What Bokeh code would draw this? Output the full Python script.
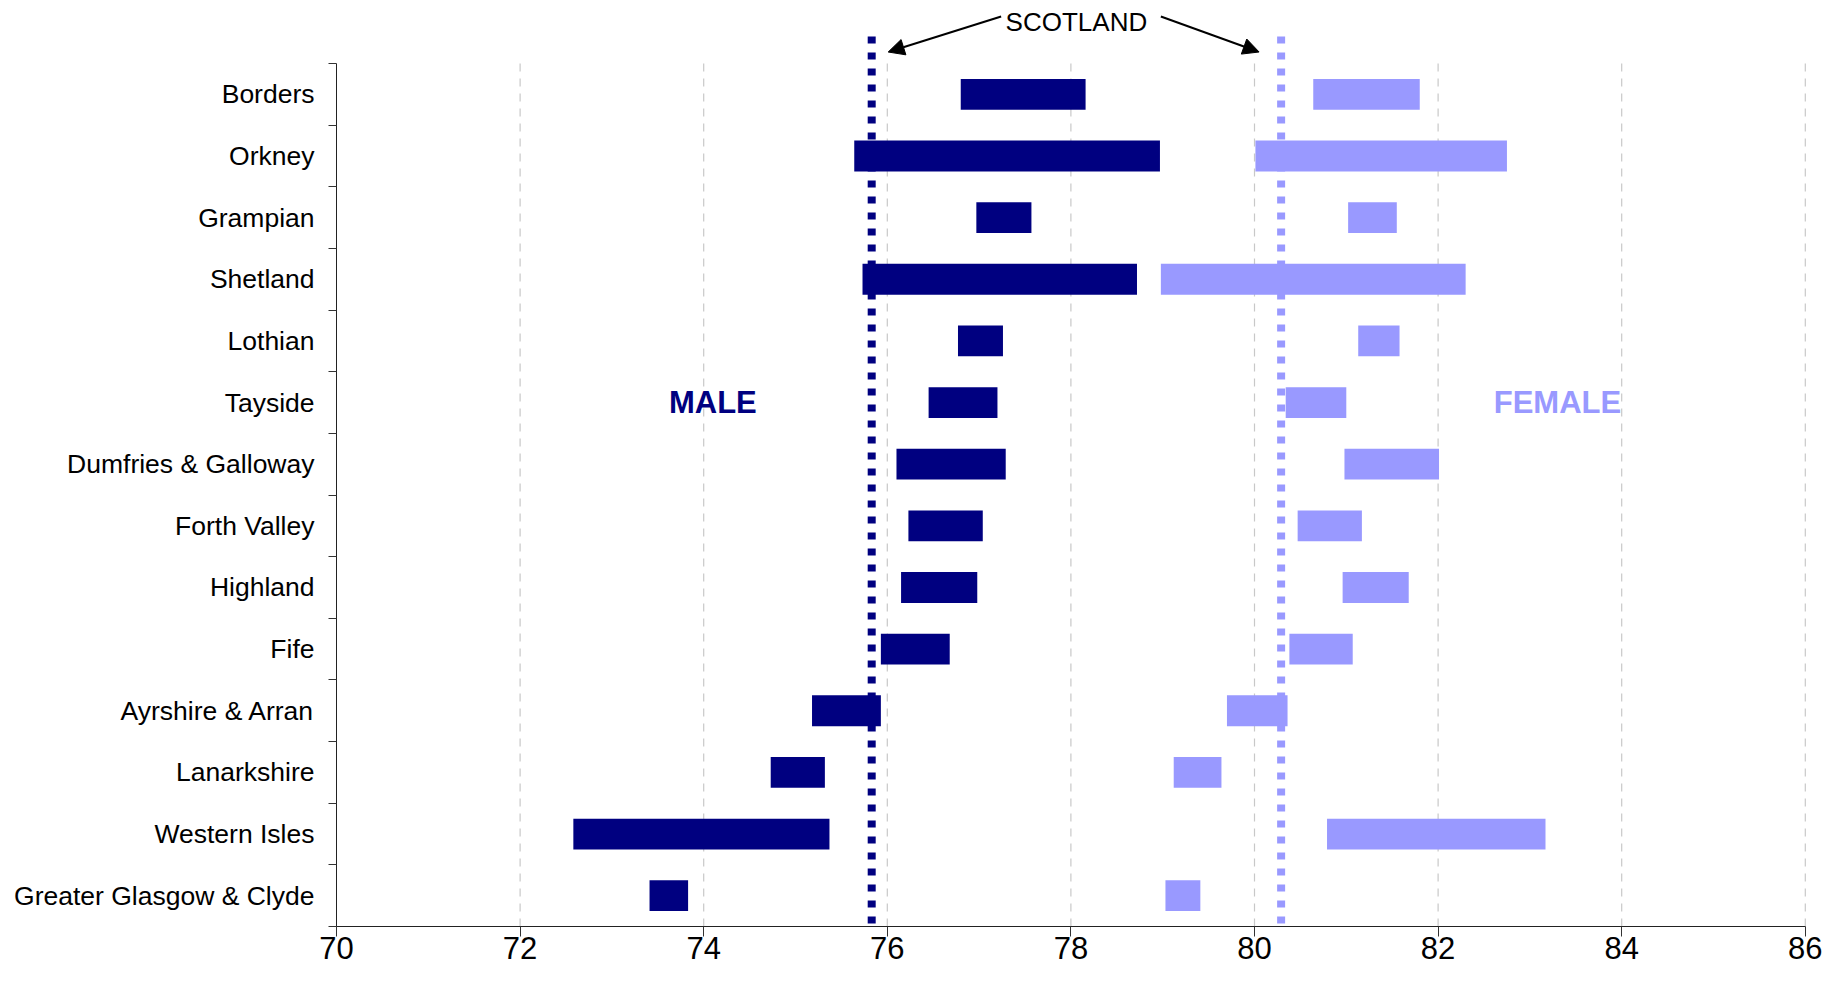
from bokeh.plotting import figure
from bokeh.models import (Range1d, FixedTicker, ColumnDataSource, Label, Arrow, NormalHead)
from bokeh.embed import file_html
from bokeh.resources import INLINE

# ---------------- data ----------------
boards = ["Borders", "Orkney", "Grampian", "Shetland", "Lothian", "Tayside",
          "Dumfries & Galloway", "Forth Valley", "Highland", "Fife",
          "Ayrshire & Arran", "Lanarkshire", "Western Isles",
          "Greater Glasgow & Clyde"]
male_low = [76.80, 75.64, 76.97, 75.73, 76.77, 76.45, 76.10, 76.23, 76.15, 75.93,
            75.18, 74.73, 72.58, 73.41]
male_high = [78.16, 78.97, 77.57, 78.72, 77.26, 77.20, 77.29, 77.04, 76.98, 76.68,
             75.93, 75.32, 75.37, 73.83]
female_low = [80.64, 80.01, 81.02, 78.98, 81.13, 80.34, 80.98, 80.47, 80.96, 80.38,
              79.70, 79.12, 80.79, 79.03]
female_high = [81.80, 82.75, 81.55, 82.30, 81.58, 81.00, 82.01, 81.17, 81.68, 81.07,
               80.36, 79.64, 83.17, 79.41]
scotland_male = 75.83
scotland_female = 80.29
x_ticks = [70, 72, 74, 76, 78, 80, 82, 84, 86]

MALE_C = "#000080"
FEMALE_C = "#9999FF"
FONT = "Liberation Sans"

n = len(boards)
ypos = [n - 0.5 - i for i in range(n)]

# layout (pixels)
W, H = 1824, 974
left_b, right_b, top_b, bottom_b = 336, 16, 8, 48
band_px = 863 / n
frame_w = W - left_b - right_b
px_per_unit = 91.8
x_end = x_ticks[0] + frame_w / px_per_unit
y_top = n + 55 / band_px
dot_top = n + 27 / band_px

p = figure(width=W, height=H, output_backend="svg", toolbar_location=None,
           x_range=Range1d(x_ticks[0], x_end), y_range=Range1d(0, y_top),
           min_border_left=left_b, min_border_right=right_b,
           min_border_top=top_b, min_border_bottom=bottom_b)
p.outline_line_color = None
p.xgrid.visible = False
p.ygrid.visible = False

# dashed grid lines
gx = x_ticks[1:]
p.segment(x0=gx, y0=[0] * len(gx), x1=gx, y1=[n] * len(gx),
          line_color="#c8c8c8", line_width=1.2, line_dash="8 7")

src = ColumnDataSource(dict(y=ypos, ml=male_low, mh=male_high, fl=female_low, fh=female_high))
p.hbar(y="y", left="ml", right="mh", height=0.5, source=src,
       fill_color=MALE_C, line_color=None)
p.hbar(y="y", left="fl", right="fh", height=0.5, source=src,
       fill_color=FEMALE_C, line_color=None)

# Scotland reference lines (drawn top-down so the dots start at the top)
p.segment(x0=[scotland_male], y0=[dot_top], x1=[scotland_male], y1=[0],
          line_color=MALE_C, line_width=8, line_dash="7 9", line_cap="butt")
p.segment(x0=[scotland_female], y0=[dot_top], x1=[scotland_female], y1=[0],
          line_color=FEMALE_C, line_width=8, line_dash="7 9", line_cap="butt")

# annotations
mid = (scotland_male + scotland_female) / 2
ty = n + 42 / band_px
p.add_layout(Label(x=mid, y=ty, text="SCOTLAND", text_align="center",
                   text_baseline="middle", text_font=FONT, text_font_size="26px",
                   text_color="black"))
ay0 = n + 47 / band_px
ay1 = n + 11.5 / band_px
p.add_layout(Arrow(end=NormalHead(size=16, fill_color="black", line_color="black"),
                   x_start=mid - 0.82, y_start=ay0, x_end=scotland_male + 0.18, y_end=ay1,
                   line_width=2, line_color="black"))
p.add_layout(Arrow(end=NormalHead(size=16, fill_color="black", line_color="black"),
                   x_start=mid + 0.92, y_start=ay0, x_end=scotland_female - 0.24, y_end=ay1,
                   line_width=2, line_color="black"))

label_y = ypos[boards.index("Tayside")]
p.add_layout(Label(x=74.1, y=label_y, text="MALE", text_align="center",
                   text_baseline="middle", text_font=FONT, text_font_size="31px",
                   text_font_style="bold", text_color=MALE_C))
p.add_layout(Label(x=83.3, y=label_y, text="FEMALE", text_align="center",
                   text_baseline="middle", text_font=FONT, text_font_size="31px",
                   text_font_style="bold", text_color=FEMALE_C))

# y axis: labels at band centres, minor ticks at band boundaries
ya = p.yaxis[0]
ya.ticker = FixedTicker(ticks=ypos, minor_ticks=list(range(n + 1)))
ya.major_label_overrides = {y: b for y, b in zip(ypos, boards)}
ya.bounds = (0, n)
ya.major_tick_out = 0
ya.major_tick_in = 0
ya.minor_tick_out = 8
ya.minor_tick_in = 0
ya.minor_tick_line_color = "#333333"
ya.axis_line_color = "#222222"
ya.major_label_text_font = FONT
ya.major_label_text_font_size = "26.5px"
ya.major_label_text_color = "black"
ya.major_label_standoff = 14

xa = p.xaxis[0]
xa.ticker = FixedTicker(ticks=x_ticks, minor_ticks=[])
xa.bounds = (x_ticks[0], x_ticks[-1])
xa.major_tick_out = 10
xa.major_tick_in = 0
xa.major_tick_line_color = "#333333"
xa.axis_line_color = "#222222"
xa.major_label_text_font = FONT
xa.major_label_text_font_size = "31px"
xa.major_label_text_color = "black"
xa.major_label_standoff = 0

open("out.html", "w").write(file_html(p, INLINE))
